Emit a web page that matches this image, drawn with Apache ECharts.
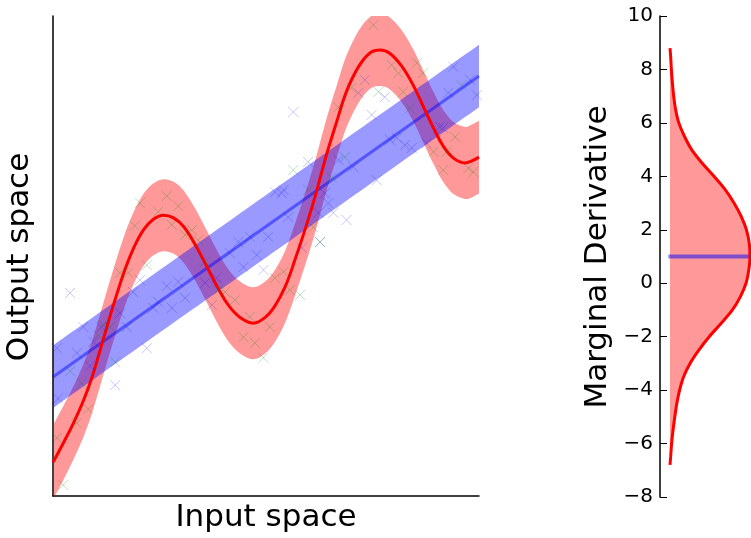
<!DOCTYPE html>
<html>
<head>
<meta charset="utf-8">
<script src="https://cdn.jsdelivr.net/npm/echarts@6/dist/echarts.min.js"></script>
<style>html,body{margin:0;padding:0;background:#fff;}#c{width:751px;height:538px;}</style>
</head>
<body>
<div id="c"></div>
<script>
// ---- Left panel: GP-like fit (red) and linear fit (blue) ----
const redX = [0, 2.4, 4.8, 7.1, 9.1, 11.0, 13.0, 15.0, 16.9, 18.9, 21.2, 23.5, 25.9, 28.2, 30.6, 33.3, 36.1, 38.8, 41.2, 43.9, 47.0, 49.8, 52.1, 54.5, 56.8, 59.2, 61.5, 64.2, 66.6, 68.9, 71.7, 74.4, 76.8, 79.1, 81.9, 84.6, 86.9, 89.3, 91.6, 94.0, 96.7, 98.3, 100];
const redY = [7.0, 11.0, 15.2, 19.8, 24.6, 30.2, 36.3, 42.1, 47.2, 51.6, 55.4, 57.6, 58.5, 58.0, 56.2, 52.5, 47.8, 43.2, 39.7, 37.2, 36.0, 37.2, 39.6, 43.6, 49.2, 55.6, 62.3, 71.1, 78.0, 84.3, 89.4, 92.3, 92.9, 92.2, 89.5, 85.5, 81.2, 76.7, 72.9, 70.4, 69.4, 69.8, 70.6];
const redHalfWidth = [7.7, 7.7, 7.6, 7.6, 7.5, 7.5, 7.5, 7.5, 7.5, 7.5, 7.5, 7.5, 7.5, 7.5, 7.5, 7.5, 7.5, 7.5, 7.5, 7.5, 7.5, 7.5, 7.5, 7.5, 7.5, 7.5, 7.5, 7.5, 7.5, 7.5, 7.5, 7.5, 7.5, 7.5, 7.5, 7.5, 7.5, 7.5, 7.5, 7.5, 7.5, 7.6, 7.6];

const blueX = [0, 100];
const blueY = [24.8, 87.5];
const blueHalfWidth = [6.5, 6.5];

const greenPtsX = [26.7, 29.4, 20.4, 24.7, 19.2, 27.9, 22.0, 15.7, 17.7, 11.8, 13.4, 10.6, 14.6, 4.0, 6.7, 8.3, 5.6, 0.9, 2.4, 31.0, 32.6, 34.1, 35.7, 38.8, 40.4, 42.7, 46.2, 50.9, 44.7, 47.4, 49.4, 52.1, 54.1, 55.6, 58.0, 59.9, 61.1, 62.7, 75.2, 79.5, 85.4, 81.1, 86.9, 76.4, 70.1, 82.2, 67.0, 83.8, 95.9, 94.4, 89.3, 92.4, 91.6, 97.5, 98.7, 56.4, 68.5, 65.4];
const greenPtsY = [62.5, 60.4, 61.0, 59.2, 56.3, 56.5, 48.1, 46.5, 46.5, 35.6, 35.2, 33.5, 27.9, 26.0, 23.5, 18.1, 15.2, 12.1, 2.3, 54.4, 55.4, 53.3, 48.8, 42.9, 42.5, 40.8, 37.3, 35.2, 33.1, 31.9, 28.8, 45.4, 46.7, 42.9, 41.9, 63.8, 56.0, 52.9, 98.1, 89.8, 90.2, 88.1, 88.1, 84.2, 85.0, 84.2, 81.0, 80.8, 85.6, 74.8, 71.7, 71.7, 67.9, 68.3, 67.5, 67.9, 70.6, 66.3];

const bluePtsX = [4.0, 20.4, 18.8, 26.7, 29.4, 31.0, 24.7, 27.9, 23.5, 15.7, 17.3, 7.1, 11.4, 9.5, 0.9, 5.6, 22.0, 8.7, 14.6, 1.2, 52.1, 53.7, 55.2, 50.5, 46.2, 43.5, 47.8, 41.5, 44.7, 49.4, 58.4, 62.7, 35.7, 38.4, 37.3, 62.3, 73.2, 71.7, 77.9, 94.0, 97.9, 99.5, 92.8, 56.4, 74.8, 90.8, 91.6, 79.1, 80.7, 82.6, 84.2, 87.7, 59.9, 67.0, 70.5, 76.0, 54.1, 63.8, 64.6, 65.8, 68.9];
const bluePtsY = [42.3, 45.0, 42.5, 43.75, 44.6, 41.25, 40.4, 39.2, 39.2, 38.1, 35.2, 35.2, 35.2, 32.1, 30.8, 29.8, 30.8, 27.1, 23.1, 20.3, 63.3, 63.1, 58.1, 54.0, 54.0, 52.9, 50.2, 50.6, 47.7, 47.1, 51.7, 52.9, 44.4, 45.4, 39.8, 59.0, 86.7, 84.0, 83.1, 89.4, 86.7, 83.5, 84.0, 80.0, 79.4, 76.9, 76.7, 74.2, 74.6, 73.1, 72.5, 73.5, 69.6, 70.0, 68.5, 65.8, 63.75, 63.1, 61.0, 59.0, 57.5];

// ---- Right panel: marginal derivative density ----
const margD = [8.8, 8.5, 8.0, 7.5, 7.0, 6.5, 6.0, 5.5, 5.0, 4.5, 4.0, 3.5, 3.0, 2.5, 2.0, 1.5, 1.0, 0.5, 0.0, -0.5, -1.0, -1.5, -2.0, -2.5, -3.0, -3.5, -4.0, -4.5, -5.0, -5.5, -6.0, -6.5, -6.8];
const margDensity = [0, 0.008, 0.017, 0.03, 0.046, 0.07, 0.11, 0.18, 0.27, 0.40, 0.55, 0.69, 0.80, 0.89, 0.955, 0.99, 1.0, 0.985, 0.95, 0.88, 0.78, 0.64, 0.49, 0.36, 0.25, 0.17, 0.12, 0.085, 0.06, 0.038, 0.02, 0.008, 0];
const linearDeriv = 1.0;

const FONT = '"DejaVu Sans", "Liberation Sans", sans-serif';

const zip = (a, b) => a.map((v, i) => [v, b[i]]);
const crossPath = 'path://M0,0L10,10M10,0L0,10';

// smooth (Catmull-Rom) cubic segments through pixel points
function crSegments(p) {
  let s = '';
  const n = p.length;
  for (let i = 0; i < n - 1; i++) {
    const p0 = p[Math.max(i - 1, 0)], p1 = p[i], p2 = p[i + 1], p3 = p[Math.min(i + 2, n - 1)];
    const c1x = p1[0] + (p2[0] - p0[0]) / 6, c1y = p1[1] + (p2[1] - p0[1]) / 6;
    const c2x = p2[0] - (p3[0] - p1[0]) / 6, c2y = p2[1] - (p3[1] - p1[1]) / 6;
    s += 'C' + c1x.toFixed(2) + ',' + c1y.toFixed(2) + ' ' + c2x.toFixed(2) + ',' + c2y.toFixed(2) + ' ' + p2[0].toFixed(2) + ',' + p2[1].toFixed(2);
  }
  return s;
}

// band between mean-hw and mean+hw, drawn through the axis scales
function bandSeries(xs, ys, hw, fill, z) {
  return {
    type: 'custom', xAxisIndex: 0, yAxisIndex: 0, data: [[xs[0], ys[0]]], clip: true, silent: true, z: z,
    renderItem: function (params, api) {
      const up = xs.map((x, i) => api.coord([x, ys[i] + hw[i]]));
      const lo = xs.map((x, i) => api.coord([x, ys[i] - hw[i]])).reverse();
      const d = 'M' + up[0][0] + ',' + up[0][1] + crSegments(up) +
                'L' + lo[0][0] + ',' + lo[0][1] + crSegments(lo) + 'Z';
      return {type: 'path', shape: {pathData: d}, style: {fill: fill}};
    }
  };
}

const chart = echarts.init(document.getElementById('c'), null, {renderer: 'canvas', width: 751, height: 538});

const option = {
  animation: false,
  backgroundColor: '#fff',
  grid: [
    {left: 53, top: 16, width: 426, height: 480},
    {left: 660, top: 16, width: 91, height: 481}
  ],
  xAxis: [
    {gridIndex: 0, type: 'value', min: 0, max: 100,
     axisLine: {show: true, onZero: false, lineStyle: {color: '#000', width: 1.5}},
     axisTick: {show: false}, axisLabel: {show: false}, splitLine: {show: false}},
    {gridIndex: 1, type: 'value', min: -0.125, max: 1.0125, show: false, splitLine: {show: false}}
  ],
  yAxis: [
    {gridIndex: 0, type: 'value', min: 0, max: 100,
     axisLine: {show: true, onZero: false, lineStyle: {color: '#000', width: 1.5}},
     axisTick: {show: false}, axisLabel: {show: false}, splitLine: {show: false}},
    {gridIndex: 1, type: 'value', min: -8, max: 10, interval: 2, position: 'left',
     axisLine: {show: true, onZero: false, lineStyle: {color: '#000', width: 1.5}},
     axisTick: {show: true, inside: true, length: 7, lineStyle: {color: '#000', width: 1}},
     axisLabel: {show: true, margin: 7, color: '#000', fontSize: 20, fontFamily: FONT,
       formatter: v => (v < 0 ? '\u2212' + Math.abs(v) : String(v))},
     splitLine: {show: false}}
  ],
  series: [
    bandSeries(redX, redY, redHalfWidth, 'rgba(255,0,0,0.4)', 1),
    bandSeries(blueX, blueY, blueHalfWidth, 'rgba(0,0,255,0.4)', 2),
    {type: 'line', xAxisIndex: 0, yAxisIndex: 0, data: zip(blueX, blueY),
     symbol: 'none', lineStyle: {color: 'rgba(0,0,255,0.45)', width: 3}, silent: true, z: 3},
    {type: 'line', xAxisIndex: 0, yAxisIndex: 0, data: zip(redX, redY), smooth: 0.4,
     symbol: 'none', lineStyle: {color: '#ff0000', width: 3}, silent: true, z: 4},
    {type: 'scatter', xAxisIndex: 0, yAxisIndex: 0, data: zip(greenPtsX, greenPtsY), symbol: crossPath, symbolSize: 10,
     itemStyle: {color: 'rgba(0,0,0,0)', borderColor: 'rgba(0,128,0,0.33)', borderWidth: 1}, silent: true, z: 5},
    {type: 'scatter', xAxisIndex: 0, yAxisIndex: 0, data: zip(bluePtsX, bluePtsY), symbol: crossPath, symbolSize: 10,
     itemStyle: {color: 'rgba(0,0,0,0)', borderColor: 'rgba(0,0,255,0.28)', borderWidth: 1}, silent: true, z: 5},

    {type: 'custom', xAxisIndex: 1, yAxisIndex: 1, data: [[0, 0]], clip: true, silent: true, z: 1,
     renderItem: function (params, api) {
       const pts = margD.map((d, i) => api.coord([margDensity[i], d]));
       const d = 'M' + pts[0][0] + ',' + pts[0][1] + crSegments(pts) + 'Z';
       return {type: 'path', shape: {pathData: d}, style: {fill: 'rgba(255,0,0,0.4)'}};
     }},
    {type: 'line', xAxisIndex: 1, yAxisIndex: 1, data: [[-0.02, linearDeriv], [1.0125, linearDeriv]],
     symbol: 'none', lineStyle: {color: 'rgba(0,0,255,0.5)', width: 4}, silent: true, z: 2},
    {type: 'line', xAxisIndex: 1, yAxisIndex: 1, data: zip(margDensity, margD), smooth: 0.3,
     symbol: 'none', lineStyle: {color: '#ff0000', width: 3}, silent: true, z: 3}
  ],
  graphic: [
    {type: 'text', x: 266, y: 518, style: {text: 'Input space', font: '31px ' + FONT, fill: '#000', align: 'center', verticalAlign: 'middle'}},
    {type: 'text', x: 20, y: 257, rotation: Math.PI / 2, style: {text: 'Output space', font: '31px ' + FONT, fill: '#000', align: 'center', verticalAlign: 'middle'}},
    {type: 'text', x: 598, y: 257, rotation: Math.PI / 2, style: {text: 'Marginal Derivative', font: '31px ' + FONT, fill: '#000', align: 'center', verticalAlign: 'middle'}}
  ]
};
chart.setOption(option);
</script>
</body>
</html>
